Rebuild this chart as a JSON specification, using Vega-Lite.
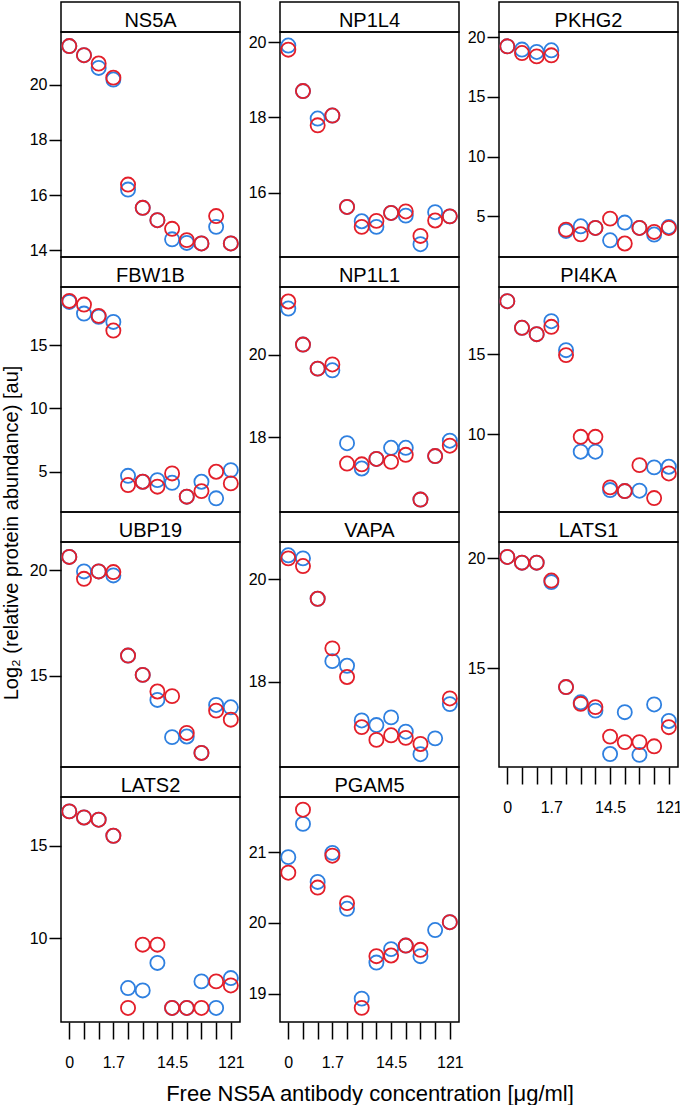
{
"$schema": "https://vega.github.io/schema/vega-lite/v6.json",
"padding": {"left": 2, "top": 1, "right": 0, "bottom": 0},
"background": "white",
"title": {"text": "Log₂  (relative protein abundance) [au]", "orient": "left", "anchor": "middle", "fontSize": 20, "fontWeight": "normal", "color": "#000", "offset": 6, "dx": 20},
"config": {
 "font": "Liberation Sans",
 "view": {"stroke": "#000", "strokeWidth": 1.5},
 "axis": {"domain": false, "grid": false, "tickColor": "#000", "tickWidth": 1.5, "tickSize": 12, "labelFontSize": 16, "labelColor": "#000", "labelPadding": 2, "titleFontWeight": "normal", "titleColor": "#000"},
 "text": {"fontSize": 20, "color": "#000"}
},
"datasets": {"pts": [
{"protein":"NS5A","conc":1,"rep":"1","log2":21.39},{"protein":"NS5A","conc":2,"rep":"1","log2":21.06},{"protein":"NS5A","conc":3,"rep":"1","log2":20.60},{"protein":"NS5A","conc":4,"rep":"1","log2":20.18},{"protein":"NS5A","conc":5,"rep":"1","log2":16.20},{"protein":"NS5A","conc":6,"rep":"1","log2":15.54},{"protein":"NS5A","conc":7,"rep":"1","log2":15.09},{"protein":"NS5A","conc":8,"rep":"1","log2":14.40},{"protein":"NS5A","conc":9,"rep":"1","log2":14.27},{"protein":"NS5A","conc":10,"rep":"1","log2":14.25},{"protein":"NS5A","conc":11,"rep":"1","log2":14.85},{"protein":"NS5A","conc":12,"rep":"1","log2":14.25},
{"protein":"NP1L4","conc":1,"rep":"1","log2":19.91},{"protein":"NP1L4","conc":2,"rep":"1","log2":18.70},{"protein":"NP1L4","conc":3,"rep":"1","log2":17.97},{"protein":"NP1L4","conc":4,"rep":"1","log2":18.05},{"protein":"NP1L4","conc":5,"rep":"1","log2":15.62},{"protein":"NP1L4","conc":6,"rep":"1","log2":15.24},{"protein":"NP1L4","conc":7,"rep":"1","log2":15.09},{"protein":"NP1L4","conc":8,"rep":"1","log2":15.46},{"protein":"NP1L4","conc":9,"rep":"1","log2":15.39},{"protein":"NP1L4","conc":10,"rep":"1","log2":14.63},{"protein":"NP1L4","conc":11,"rep":"1","log2":15.48},{"protein":"NP1L4","conc":12,"rep":"1","log2":15.37},
{"protein":"PKHG2","conc":1,"rep":"1","log2":19.22},{"protein":"PKHG2","conc":2,"rep":"1","log2":18.95},{"protein":"PKHG2","conc":3,"rep":"1","log2":18.75},{"protein":"PKHG2","conc":4,"rep":"1","log2":18.89},{"protein":"PKHG2","conc":5,"rep":"1","log2":3.77},{"protein":"PKHG2","conc":6,"rep":"1","log2":4.16},{"protein":"PKHG2","conc":7,"rep":"1","log2":4.02},{"protein":"PKHG2","conc":8,"rep":"1","log2":2.99},{"protein":"PKHG2","conc":9,"rep":"1","log2":4.47},{"protein":"PKHG2","conc":10,"rep":"1","log2":4.02},{"protein":"PKHG2","conc":11,"rep":"1","log2":3.47},{"protein":"PKHG2","conc":12,"rep":"1","log2":4.10},
{"protein":"FBW1B","conc":1,"rep":"1","log2":18.42},{"protein":"FBW1B","conc":2,"rep":"1","log2":17.50},{"protein":"FBW1B","conc":3,"rep":"1","log2":17.25},{"protein":"FBW1B","conc":4,"rep":"1","log2":16.84},{"protein":"FBW1B","conc":5,"rep":"1","log2":4.68},{"protein":"FBW1B","conc":6,"rep":"1","log2":4.21},{"protein":"FBW1B","conc":7,"rep":"1","log2":4.34},{"protein":"FBW1B","conc":8,"rep":"1","log2":4.13},{"protein":"FBW1B","conc":9,"rep":"1","log2":3.03},{"protein":"FBW1B","conc":10,"rep":"1","log2":4.21},{"protein":"FBW1B","conc":11,"rep":"1","log2":2.90},{"protein":"FBW1B","conc":12,"rep":"1","log2":5.13},
{"protein":"NP1L1","conc":1,"rep":"1","log2":21.11},{"protein":"NP1L1","conc":2,"rep":"1","log2":20.24},{"protein":"NP1L1","conc":3,"rep":"1","log2":19.66},{"protein":"NP1L1","conc":4,"rep":"1","log2":19.62},{"protein":"NP1L1","conc":5,"rep":"1","log2":17.86},{"protein":"NP1L1","conc":6,"rep":"1","log2":17.25},{"protein":"NP1L1","conc":7,"rep":"1","log2":17.48},{"protein":"NP1L1","conc":8,"rep":"1","log2":17.75},{"protein":"NP1L1","conc":9,"rep":"1","log2":17.75},{"protein":"NP1L1","conc":10,"rep":"1","log2":16.50},{"protein":"NP1L1","conc":11,"rep":"1","log2":17.55},{"protein":"NP1L1","conc":12,"rep":"1","log2":17.92},
{"protein":"PI4KA","conc":1,"rep":"1","log2":18.31},{"protein":"PI4KA","conc":2,"rep":"1","log2":16.65},{"protein":"PI4KA","conc":3,"rep":"1","log2":16.25},{"protein":"PI4KA","conc":4,"rep":"1","log2":17.06},{"protein":"PI4KA","conc":5,"rep":"1","log2":15.25},{"protein":"PI4KA","conc":6,"rep":"1","log2":8.90},{"protein":"PI4KA","conc":7,"rep":"1","log2":8.90},{"protein":"PI4KA","conc":8,"rep":"1","log2":6.50},{"protein":"PI4KA","conc":9,"rep":"1","log2":6.44},{"protein":"PI4KA","conc":10,"rep":"1","log2":6.46},{"protein":"PI4KA","conc":11,"rep":"1","log2":7.92},{"protein":"PI4KA","conc":12,"rep":"1","log2":7.96},
{"protein":"UBP19","conc":1,"rep":"1","log2":20.64},{"protein":"UBP19","conc":2,"rep":"1","log2":19.95},{"protein":"UBP19","conc":3,"rep":"1","log2":19.95},{"protein":"UBP19","conc":4,"rep":"1","log2":19.76},{"protein":"UBP19","conc":5,"rep":"1","log2":15.95},{"protein":"UBP19","conc":6,"rep":"1","log2":15.03},{"protein":"UBP19","conc":7,"rep":"1","log2":13.84},{"protein":"UBP19","conc":8,"rep":"1","log2":12.07},{"protein":"UBP19","conc":9,"rep":"1","log2":12.10},{"protein":"UBP19","conc":10,"rep":"1","log2":11.32},{"protein":"UBP19","conc":11,"rep":"1","log2":13.60},{"protein":"UBP19","conc":12,"rep":"1","log2":13.49},
{"protein":"VAPA","conc":1,"rep":"1","log2":20.47},{"protein":"VAPA","conc":2,"rep":"1","log2":20.41},{"protein":"VAPA","conc":3,"rep":"1","log2":19.62},{"protein":"VAPA","conc":4,"rep":"1","log2":18.40},{"protein":"VAPA","conc":5,"rep":"1","log2":18.31},{"protein":"VAPA","conc":6,"rep":"1","log2":17.24},{"protein":"VAPA","conc":7,"rep":"1","log2":17.15},{"protein":"VAPA","conc":8,"rep":"1","log2":17.30},{"protein":"VAPA","conc":9,"rep":"1","log2":17.02},{"protein":"VAPA","conc":10,"rep":"1","log2":16.58},{"protein":"VAPA","conc":11,"rep":"1","log2":16.89},{"protein":"VAPA","conc":12,"rep":"1","log2":17.56},
{"protein":"LATS1","conc":1,"rep":"1","log2":20.05},{"protein":"LATS1","conc":2,"rep":"1","log2":19.79},{"protein":"LATS1","conc":3,"rep":"1","log2":19.79},{"protein":"LATS1","conc":4,"rep":"1","log2":18.91},{"protein":"LATS1","conc":5,"rep":"1","log2":14.14},{"protein":"LATS1","conc":6,"rep":"1","log2":13.45},{"protein":"LATS1","conc":7,"rep":"1","log2":13.07},{"protein":"LATS1","conc":8,"rep":"1","log2":11.10},{"protein":"LATS1","conc":9,"rep":"1","log2":13.00},{"protein":"LATS1","conc":10,"rep":"1","log2":11.06},{"protein":"LATS1","conc":11,"rep":"1","log2":13.35},{"protein":"LATS1","conc":12,"rep":"1","log2":12.60},
{"protein":"LATS2","conc":1,"rep":"1","log2":16.86},{"protein":"LATS2","conc":2,"rep":"1","log2":16.53},{"protein":"LATS2","conc":3,"rep":"1","log2":16.41},{"protein":"LATS2","conc":4,"rep":"1","log2":15.54},{"protein":"LATS2","conc":5,"rep":"1","log2":7.29},{"protein":"LATS2","conc":6,"rep":"1","log2":7.16},{"protein":"LATS2","conc":7,"rep":"1","log2":8.65},{"protein":"LATS2","conc":8,"rep":"1","log2":6.21},{"protein":"LATS2","conc":9,"rep":"1","log2":6.21},{"protein":"LATS2","conc":10,"rep":"1","log2":7.65},{"protein":"LATS2","conc":11,"rep":"1","log2":6.21},{"protein":"LATS2","conc":12,"rep":"1","log2":7.83},
{"protein":"PGAM5","conc":1,"rep":"1","log2":20.93},{"protein":"PGAM5","conc":2,"rep":"1","log2":21.40},{"protein":"PGAM5","conc":3,"rep":"1","log2":20.58},{"protein":"PGAM5","conc":4,"rep":"1","log2":20.99},{"protein":"PGAM5","conc":5,"rep":"1","log2":20.20},{"protein":"PGAM5","conc":6,"rep":"1","log2":18.93},{"protein":"PGAM5","conc":7,"rep":"1","log2":19.44},{"protein":"PGAM5","conc":8,"rep":"1","log2":19.63},{"protein":"PGAM5","conc":9,"rep":"1","log2":19.68},{"protein":"PGAM5","conc":10,"rep":"1","log2":19.53},{"protein":"PGAM5","conc":11,"rep":"1","log2":19.90},{"protein":"PGAM5","conc":12,"rep":"1","log2":20.01},
{"protein":"NS5A","conc":1,"rep":"2","log2":21.39},{"protein":"NS5A","conc":2,"rep":"2","log2":21.06},{"protein":"NS5A","conc":3,"rep":"2","log2":20.76},{"protein":"NS5A","conc":4,"rep":"2","log2":20.25},{"protein":"NS5A","conc":5,"rep":"2","log2":16.38},{"protein":"NS5A","conc":6,"rep":"2","log2":15.54},{"protein":"NS5A","conc":7,"rep":"2","log2":15.09},{"protein":"NS5A","conc":8,"rep":"2","log2":14.78},{"protein":"NS5A","conc":9,"rep":"2","log2":14.37},{"protein":"NS5A","conc":10,"rep":"2","log2":14.25},{"protein":"NS5A","conc":11,"rep":"2","log2":15.24},{"protein":"NS5A","conc":12,"rep":"2","log2":14.25},
{"protein":"NP1L4","conc":1,"rep":"2","log2":19.80},{"protein":"NP1L4","conc":2,"rep":"2","log2":18.70},{"protein":"NP1L4","conc":3,"rep":"2","log2":17.79},{"protein":"NP1L4","conc":4,"rep":"2","log2":18.05},{"protein":"NP1L4","conc":5,"rep":"2","log2":15.62},{"protein":"NP1L4","conc":6,"rep":"2","log2":15.09},{"protein":"NP1L4","conc":7,"rep":"2","log2":15.25},{"protein":"NP1L4","conc":8,"rep":"2","log2":15.46},{"protein":"NP1L4","conc":9,"rep":"2","log2":15.50},{"protein":"NP1L4","conc":10,"rep":"2","log2":14.85},{"protein":"NP1L4","conc":11,"rep":"2","log2":15.26},{"protein":"NP1L4","conc":12,"rep":"2","log2":15.37},
{"protein":"PKHG2","conc":1,"rep":"2","log2":19.22},{"protein":"PKHG2","conc":2,"rep":"2","log2":18.66},{"protein":"PKHG2","conc":3,"rep":"2","log2":18.38},{"protein":"PKHG2","conc":4,"rep":"2","log2":18.47},{"protein":"PKHG2","conc":5,"rep":"2","log2":3.88},{"protein":"PKHG2","conc":6,"rep":"2","log2":3.49},{"protein":"PKHG2","conc":7,"rep":"2","log2":4.02},{"protein":"PKHG2","conc":8,"rep":"2","log2":4.80},{"protein":"PKHG2","conc":9,"rep":"2","log2":2.72},{"protein":"PKHG2","conc":10,"rep":"2","log2":4.02},{"protein":"PKHG2","conc":11,"rep":"2","log2":3.69},{"protein":"PKHG2","conc":12,"rep":"2","log2":4.02},
{"protein":"FBW1B","conc":1,"rep":"2","log2":18.50},{"protein":"FBW1B","conc":2,"rep":"2","log2":18.21},{"protein":"FBW1B","conc":3,"rep":"2","log2":17.32},{"protein":"FBW1B","conc":4,"rep":"2","log2":16.16},{"protein":"FBW1B","conc":5,"rep":"2","log2":3.95},{"protein":"FBW1B","conc":6,"rep":"2","log2":4.21},{"protein":"FBW1B","conc":7,"rep":"2","log2":3.82},{"protein":"FBW1B","conc":8,"rep":"2","log2":4.87},{"protein":"FBW1B","conc":9,"rep":"2","log2":3.03},{"protein":"FBW1B","conc":10,"rep":"2","log2":3.47},{"protein":"FBW1B","conc":11,"rep":"2","log2":5.00},{"protein":"FBW1B","conc":12,"rep":"2","log2":4.08},
{"protein":"NP1L1","conc":1,"rep":"2","log2":21.28},{"protein":"NP1L1","conc":2,"rep":"2","log2":20.24},{"protein":"NP1L1","conc":3,"rep":"2","log2":19.66},{"protein":"NP1L1","conc":4,"rep":"2","log2":19.76},{"protein":"NP1L1","conc":5,"rep":"2","log2":17.37},{"protein":"NP1L1","conc":6,"rep":"2","log2":17.35},{"protein":"NP1L1","conc":7,"rep":"2","log2":17.48},{"protein":"NP1L1","conc":8,"rep":"2","log2":17.41},{"protein":"NP1L1","conc":9,"rep":"2","log2":17.58},{"protein":"NP1L1","conc":10,"rep":"2","log2":16.50},{"protein":"NP1L1","conc":11,"rep":"2","log2":17.55},{"protein":"NP1L1","conc":12,"rep":"2","log2":17.80},
{"protein":"PI4KA","conc":1,"rep":"2","log2":18.31},{"protein":"PI4KA","conc":2,"rep":"2","log2":16.65},{"protein":"PI4KA","conc":3,"rep":"2","log2":16.25},{"protein":"PI4KA","conc":4,"rep":"2","log2":16.71},{"protein":"PI4KA","conc":5,"rep":"2","log2":14.94},{"protein":"PI4KA","conc":6,"rep":"2","log2":9.83},{"protein":"PI4KA","conc":7,"rep":"2","log2":9.83},{"protein":"PI4KA","conc":8,"rep":"2","log2":6.67},{"protein":"PI4KA","conc":9,"rep":"2","log2":6.44},{"protein":"PI4KA","conc":10,"rep":"2","log2":8.06},{"protein":"PI4KA","conc":11,"rep":"2","log2":6.00},{"protein":"PI4KA","conc":12,"rep":"2","log2":7.54},
{"protein":"UBP19","conc":1,"rep":"2","log2":20.64},{"protein":"UBP19","conc":2,"rep":"2","log2":19.60},{"protein":"UBP19","conc":3,"rep":"2","log2":19.95},{"protein":"UBP19","conc":4,"rep":"2","log2":19.92},{"protein":"UBP19","conc":5,"rep":"2","log2":15.95},{"protein":"UBP19","conc":6,"rep":"2","log2":15.03},{"protein":"UBP19","conc":7,"rep":"2","log2":14.24},{"protein":"UBP19","conc":8,"rep":"2","log2":14.02},{"protein":"UBP19","conc":9,"rep":"2","log2":12.27},{"protein":"UBP19","conc":10,"rep":"2","log2":11.32},{"protein":"UBP19","conc":11,"rep":"2","log2":13.33},{"protein":"UBP19","conc":12,"rep":"2","log2":12.90},
{"protein":"VAPA","conc":1,"rep":"2","log2":20.41},{"protein":"VAPA","conc":2,"rep":"2","log2":20.26},{"protein":"VAPA","conc":3,"rep":"2","log2":19.62},{"protein":"VAPA","conc":4,"rep":"2","log2":18.65},{"protein":"VAPA","conc":5,"rep":"2","log2":18.09},{"protein":"VAPA","conc":6,"rep":"2","log2":17.11},{"protein":"VAPA","conc":7,"rep":"2","log2":16.86},{"protein":"VAPA","conc":8,"rep":"2","log2":16.95},{"protein":"VAPA","conc":9,"rep":"2","log2":16.90},{"protein":"VAPA","conc":10,"rep":"2","log2":16.78},{"protein":"VAPA","conc":12,"rep":"2","log2":17.67},
{"protein":"LATS1","conc":1,"rep":"2","log2":20.05},{"protein":"LATS1","conc":2,"rep":"2","log2":19.79},{"protein":"LATS1","conc":3,"rep":"2","log2":19.79},{"protein":"LATS1","conc":4,"rep":"2","log2":18.98},{"protein":"LATS1","conc":5,"rep":"2","log2":14.14},{"protein":"LATS1","conc":6,"rep":"2","log2":13.38},{"protein":"LATS1","conc":7,"rep":"2","log2":13.23},{"protein":"LATS1","conc":8,"rep":"2","log2":11.89},{"protein":"LATS1","conc":9,"rep":"2","log2":11.64},{"protein":"LATS1","conc":10,"rep":"2","log2":11.64},{"protein":"LATS1","conc":11,"rep":"2","log2":11.45},{"protein":"LATS1","conc":12,"rep":"2","log2":12.32},
{"protein":"LATS2","conc":1,"rep":"2","log2":16.86},{"protein":"LATS2","conc":2,"rep":"2","log2":16.53},{"protein":"LATS2","conc":3,"rep":"2","log2":16.41},{"protein":"LATS2","conc":4,"rep":"2","log2":15.54},{"protein":"LATS2","conc":5,"rep":"2","log2":6.21},{"protein":"LATS2","conc":6,"rep":"2","log2":9.64},{"protein":"LATS2","conc":7,"rep":"2","log2":9.64},{"protein":"LATS2","conc":8,"rep":"2","log2":6.21},{"protein":"LATS2","conc":9,"rep":"2","log2":6.21},{"protein":"LATS2","conc":10,"rep":"2","log2":6.21},{"protein":"LATS2","conc":11,"rep":"2","log2":7.65},{"protein":"LATS2","conc":12,"rep":"2","log2":7.43},
{"protein":"PGAM5","conc":1,"rep":"2","log2":20.71},{"protein":"PGAM5","conc":2,"rep":"2","log2":21.60},{"protein":"PGAM5","conc":3,"rep":"2","log2":20.50},{"protein":"PGAM5","conc":4,"rep":"2","log2":20.95},{"protein":"PGAM5","conc":5,"rep":"2","log2":20.28},{"protein":"PGAM5","conc":6,"rep":"2","log2":18.80},{"protein":"PGAM5","conc":7,"rep":"2","log2":19.53},{"protein":"PGAM5","conc":8,"rep":"2","log2":19.54},{"protein":"PGAM5","conc":9,"rep":"2","log2":19.68},{"protein":"PGAM5","conc":10,"rep":"2","log2":19.62},{"protein":"PGAM5","conc":12,"rep":"2","log2":20.01}
]},
"columns": 3,
"spacing": {"row": 0, "column": 40},
"bounds": "flush",
"align": "each",
"resolve": {"scale": {"x": "independent", "y": "independent"}},
"concat": [
{"width":179,"height":30,"view":{"stroke":"#000","strokeWidth":1.5},"data":{"values":[{"name":"NS5A"}]},"mark":{"type":"text","dy":3.5},"encoding":{"text":{"field":"name"}}},
{"width":179,"height":30,"view":{"stroke":"#000","strokeWidth":1.5},"data":{"values":[{"name":"NP1L4"}]},"mark":{"type":"text","dy":3.5},"encoding":{"text":{"field":"name"}}},
{"width":179,"height":30,"view":{"stroke":"#000","strokeWidth":1.5},"data":{"values":[{"name":"PKHG2"}]},"mark":{"type":"text","dy":3.5},"encoding":{"text":{"field":"name"}}},
{"width":179,"height":225,"data":{"name":"pts"},"transform":[{"filter":"datum.protein === 'NS5A'"}],"mark":{"type":"point","shape":"circle","filled":false,"size":200,"strokeWidth":1.8,"opacity":1},"encoding":{"x":{"field":"conc","type":"quantitative","scale":{"domain":[0.435,12.625],"nice":false,"zero":false},"axis":null},"y":{"field":"log2","type":"quantitative","scale":{"domain":[13.76,21.9],"nice":false,"zero":false},"axis":{"values":[14,16,18,20],"title":null}},"color":{"field":"rep","type":"nominal","scale":{"domain":["1","2"],"range":["#2f80e0","#e31f2a"]},"legend":null}}},
{"width":179,"height":225,"data":{"name":"pts"},"transform":[{"filter":"datum.protein === 'NP1L4'"}],"mark":{"type":"point","shape":"circle","filled":false,"size":200,"strokeWidth":1.8,"opacity":1},"encoding":{"x":{"field":"conc","type":"quantitative","scale":{"domain":[0.435,12.625],"nice":false,"zero":false},"axis":null},"y":{"field":"log2","type":"quantitative","scale":{"domain":[14.29,20.27],"nice":false,"zero":false},"axis":{"values":[16,18,20],"title":null}},"color":{"field":"rep","type":"nominal","scale":{"domain":["1","2"],"range":["#2f80e0","#e31f2a"]},"legend":null}}},
{"width":179,"height":225,"data":{"name":"pts"},"transform":[{"filter":"datum.protein === 'PKHG2'"}],"mark":{"type":"point","shape":"circle","filled":false,"size":200,"strokeWidth":1.8,"opacity":1},"encoding":{"x":{"field":"conc","type":"quantitative","scale":{"domain":[0.435,12.625],"nice":false,"zero":false},"axis":null},"y":{"field":"log2","type":"quantitative","scale":{"domain":[1.59,20.42],"nice":false,"zero":false},"axis":{"values":[5,10,15,20],"title":null}},"color":{"field":"rep","type":"nominal","scale":{"domain":["1","2"],"range":["#2f80e0","#e31f2a"]},"legend":null}}},
{"width":179,"height":30,"view":{"stroke":"#000","strokeWidth":1.5},"data":{"values":[{"name":"FBW1B"}]},"mark":{"type":"text","dy":3.5},"encoding":{"text":{"field":"name"}}},
{"width":179,"height":30,"view":{"stroke":"#000","strokeWidth":1.5},"data":{"values":[{"name":"NP1L1"}]},"mark":{"type":"text","dy":3.5},"encoding":{"text":{"field":"name"}}},
{"width":179,"height":30,"view":{"stroke":"#000","strokeWidth":1.5},"data":{"values":[{"name":"PI4KA"}]},"mark":{"type":"text","dy":3.5},"encoding":{"text":{"field":"name"}}},
{"width":179,"height":225,"data":{"name":"pts"},"transform":[{"filter":"datum.protein === 'FBW1B'"}],"mark":{"type":"point","shape":"circle","filled":false,"size":200,"strokeWidth":1.8,"opacity":1},"encoding":{"x":{"field":"conc","type":"quantitative","scale":{"domain":[0.435,12.625],"nice":false,"zero":false},"axis":null},"y":{"field":"log2","type":"quantitative","scale":{"domain":[1.82,19.6],"nice":false,"zero":false},"axis":{"values":[5,10,15],"title":null}},"color":{"field":"rep","type":"nominal","scale":{"domain":["1","2"],"range":["#2f80e0","#e31f2a"]},"legend":null}}},
{"width":179,"height":225,"data":{"name":"pts"},"transform":[{"filter":"datum.protein === 'NP1L1'"}],"mark":{"type":"point","shape":"circle","filled":false,"size":200,"strokeWidth":1.8,"opacity":1},"encoding":{"x":{"field":"conc","type":"quantitative","scale":{"domain":[0.435,12.625],"nice":false,"zero":false},"axis":null},"y":{"field":"log2","type":"quantitative","scale":{"domain":[16.2,21.63],"nice":false,"zero":false},"axis":{"values":[18,20],"title":null}},"color":{"field":"rep","type":"nominal","scale":{"domain":["1","2"],"range":["#2f80e0","#e31f2a"]},"legend":null}}},
{"width":179,"height":225,"data":{"name":"pts"},"transform":[{"filter":"datum.protein === 'PI4KA'"}],"mark":{"type":"point","shape":"circle","filled":false,"size":200,"strokeWidth":1.8,"opacity":1},"encoding":{"x":{"field":"conc","type":"quantitative","scale":{"domain":[0.435,12.625],"nice":false,"zero":false},"axis":null},"y":{"field":"log2","type":"quantitative","scale":{"domain":[5.13,19.2],"nice":false,"zero":false},"axis":{"values":[10,15],"title":null}},"color":{"field":"rep","type":"nominal","scale":{"domain":["1","2"],"range":["#2f80e0","#e31f2a"]},"legend":null}}},
{"width":179,"height":30,"view":{"stroke":"#000","strokeWidth":1.5},"data":{"values":[{"name":"UBP19"}]},"mark":{"type":"text","dy":3.5},"encoding":{"text":{"field":"name"}}},
{"width":179,"height":30,"view":{"stroke":"#000","strokeWidth":1.5},"data":{"values":[{"name":"VAPA"}]},"mark":{"type":"text","dy":3.5},"encoding":{"text":{"field":"name"}}},
{"width":179,"height":30,"view":{"stroke":"#000","strokeWidth":1.5},"data":{"values":[{"name":"LATS1"}]},"mark":{"type":"text","dy":3.5},"encoding":{"text":{"field":"name"}}},
{"width":179,"height":225,"data":{"name":"pts"},"transform":[{"filter":"datum.protein === 'UBP19'"}],"mark":{"type":"point","shape":"circle","filled":false,"size":200,"strokeWidth":1.8,"opacity":1},"encoding":{"x":{"field":"conc","type":"quantitative","scale":{"domain":[0.435,12.625],"nice":false,"zero":false},"axis":null},"y":{"field":"log2","type":"quantitative","scale":{"domain":[10.65,21.35],"nice":false,"zero":false},"axis":{"values":[15,20],"title":null}},"color":{"field":"rep","type":"nominal","scale":{"domain":["1","2"],"range":["#2f80e0","#e31f2a"]},"legend":null}}},
{"width":179,"height":225,"data":{"name":"pts"},"transform":[{"filter":"datum.protein === 'VAPA'"}],"mark":{"type":"point","shape":"circle","filled":false,"size":200,"strokeWidth":1.8,"opacity":1},"encoding":{"x":{"field":"conc","type":"quantitative","scale":{"domain":[0.435,12.625],"nice":false,"zero":false},"axis":null},"y":{"field":"log2","type":"quantitative","scale":{"domain":[16.33,20.73],"nice":false,"zero":false},"axis":{"values":[18,20],"title":null}},"color":{"field":"rep","type":"nominal","scale":{"domain":["1","2"],"range":["#2f80e0","#e31f2a"]},"legend":null}}},
{"width":179,"height":225,"data":{"name":"pts"},"transform":[{"filter":"datum.protein === 'LATS1'"}],"mark":{"type":"point","shape":"circle","filled":false,"size":200,"strokeWidth":1.8,"opacity":1},"encoding":{"x":{"field":"conc","type":"quantitative","scale":{"domain":[0.435,12.625],"nice":false,"zero":false},"axis":{"values":[1,2,3,4,5,6,7,8,9,10,11,12],"labelExpr":"datum.value==1?'0':datum.value==4?'1.7':datum.value==8?'14.5':datum.value==12?'121':''","title":null,"tickSize":17,"labelPadding":15,"labelOverlap":false,"labelFlush":false,"labelBound":false}},"y":{"field":"log2","type":"quantitative","scale":{"domain":[10.51,20.73],"nice":false,"zero":false},"axis":{"values":[15,20],"title":null}},"color":{"field":"rep","type":"nominal","scale":{"domain":["1","2"],"range":["#2f80e0","#e31f2a"]},"legend":null}}},
{"width":179,"height":30,"view":{"stroke":"#000","strokeWidth":1.5},"data":{"values":[{"name":"LATS2"}]},"mark":{"type":"text","dy":3.5},"encoding":{"text":{"field":"name"}}},
{"width":179,"height":30,"view":{"stroke":"#000","strokeWidth":1.5},"data":{"values":[{"name":"PGAM5"}]},"mark":{"type":"text","dy":3.5},"encoding":{"text":{"field":"name"}}},
{"width":179,"height":30,"view":{"stroke":null},"data":{"values":[]},"mark":{"type":"text"},"encoding":{}},
{"width":179,"height":225,"data":{"name":"pts"},"transform":[{"filter":"datum.protein === 'LATS2'"}],"mark":{"type":"point","shape":"circle","filled":false,"size":200,"strokeWidth":1.8,"opacity":1},"encoding":{"x":{"field":"conc","type":"quantitative","scale":{"domain":[0.435,12.625],"nice":false,"zero":false},"axis":{"values":[1,2,3,4,5,6,7,8,9,10,11,12],"labelExpr":"datum.value==1?'0':datum.value==4?'1.7':datum.value==8?'14.5':datum.value==12?'121':''","title":null,"tickSize":17,"labelPadding":15,"labelOverlap":false,"labelFlush":false,"labelBound":false}},"y":{"field":"log2","type":"quantitative","scale":{"domain":[5.45,17.64],"nice":false,"zero":false},"axis":{"values":[10,15],"title":null}},"color":{"field":"rep","type":"nominal","scale":{"domain":["1","2"],"range":["#2f80e0","#e31f2a"]},"legend":null}}},
{"width":179,"height":225,"data":{"name":"pts"},"transform":[{"filter":"datum.protein === 'PGAM5'"}],"mark":{"type":"point","shape":"circle","filled":false,"size":200,"strokeWidth":1.8,"opacity":1},"encoding":{"x":{"field":"conc","type":"quantitative","scale":{"domain":[0.435,12.625],"nice":false,"zero":false},"axis":{"values":[1,2,3,4,5,6,7,8,9,10,11,12],"labelExpr":"datum.value==1?'0':datum.value==4?'1.7':datum.value==8?'14.5':datum.value==12?'121':''","title":"Free NS5A antibody concentration [μg/ml]","titleFontSize":22,"titlePadding":13,"tickSize":17,"labelPadding":15,"labelOverlap":false,"labelFlush":false,"labelBound":false}},"y":{"field":"log2","type":"quantitative","scale":{"domain":[18.6,21.78],"nice":false,"zero":false},"axis":{"values":[19,20,21],"title":null}},"color":{"field":"rep","type":"nominal","scale":{"domain":["1","2"],"range":["#2f80e0","#e31f2a"]},"legend":null}}}
]
}
